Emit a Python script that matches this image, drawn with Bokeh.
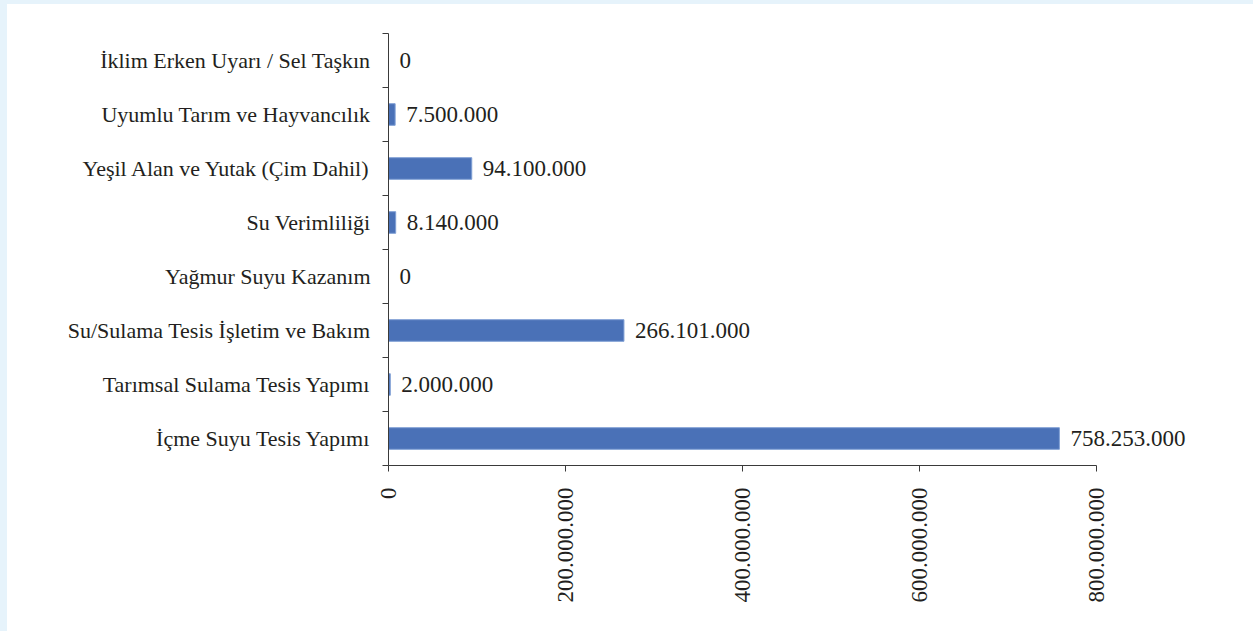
from math import pi
from bokeh.plotting import figure
from bokeh.models import (FactorRange, Range1d, LinearAxis, CategoricalAxis,
                          FixedTicker, CustomJSTickFormatter, ColumnDataSource)
from bokeh.core.properties import value
from bokeh.embed import file_html
from bokeh.resources import INLINE

# Categories listed bottom -> top (as drawn on the y axis)
categories = [
    "İçme Suyu Tesis Yapımı",
    "Tarımsal Sulama Tesis Yapımı",
    "Su/Sulama Tesis İşletim ve Bakım",
    "Yağmur Suyu Kazanım",
    "Su Verimliliği",
    "Yeşil Alan ve Yutak (Çim Dahil)",
    "Uyumlu Tarım ve Hayvancılık",
    "İklim Erken Uyarı / Sel Taşkın",
]
amounts = [758253000, 2000000, 266101000, 0, 8140000, 94100000, 7500000, 0]
x_ticks = [0, 200000000, 400000000, 600000000, 800000000]

FONT = "'Liberation Serif', serif"
TXT = "#231f20"
BAR = "#4a71b7"
AXIS = "#3a3a3a"

labels = [f"{v:,}".replace(",", ".") for v in amounts]
src = ColumnDataSource(dict(cat=categories, amt=amounts, lab=labels))

p = figure(width=1253, height=631,
           x_range=Range1d(0, 920000000),
           y_range=FactorRange(factors=categories),
           x_axis_location=None, y_axis_location=None,
           output_backend="svg", toolbar_location=None,
           min_border_left=388, min_border_top=33,
           min_border_right=51, min_border_bottom=166)
p.outline_line_color = None
p.xgrid.visible = False
p.ygrid.visible = False
p.background_fill_color = None
p.border_fill_color = None

p.hbar(y="cat", right="amt", left=0, height=0.4, source=src,
       fill_color=BAR, line_color="#7f9fd4", line_width=1)
p.text(x="amt", y="cat", text="lab", source=src, x_offset=11,
       text_baseline="middle", text_align="left",
       text_font=value(FONT), text_font_size="23px", text_color=TXT)

# x axis
xaxis = LinearAxis(bounds=(0, 800000000), ticker=FixedTicker(ticks=x_ticks, minor_ticks=[]),
                   formatter=CustomJSTickFormatter(code="""
return Math.round(tick).toString().replace(/\\B(?=(\\d{3})+(?!\\d))/g, ".");
"""))
xaxis.major_label_orientation = pi / 2
xaxis.major_label_text_font = FONT
xaxis.major_label_text_font_size = "23px"
xaxis.major_label_text_color = TXT
xaxis.major_label_standoff = 16
xaxis.major_tick_in = 0
xaxis.major_tick_out = 6
xaxis.minor_tick_line_color = None
xaxis.axis_line_color = AXIS
xaxis.major_tick_line_color = AXIS
p.add_layout(xaxis, "below")

# boundary ticks axis (closest to the frame), ticks between category bands
baxis = LinearAxis(ticker=FixedTicker(ticks=list(range(len(categories) + 1)), minor_ticks=[]),
                   formatter=CustomJSTickFormatter(code="return '';"))
baxis.major_tick_in = 0
baxis.major_tick_out = 6
baxis.minor_tick_line_color = None
baxis.major_label_standoff = 0
baxis.major_label_text_font_size = "1px"
baxis.axis_line_color = AXIS
baxis.major_tick_line_color = AXIS
p.add_layout(baxis, "left")

# category labels axis
caxis = CategoricalAxis()
caxis.axis_line_color = None
caxis.major_tick_line_color = None
caxis.major_tick_in = 0
caxis.major_tick_out = 0
caxis.major_label_standoff = 12
caxis.major_label_text_font = FONT
caxis.major_label_text_font_size = "22px"
caxis.major_label_text_color = TXT
p.add_layout(caxis, "left")

html = file_html(p, INLINE)
css = ("<style>html{background-color:#fff;"
       "background-image:linear-gradient(#e6f3fb 4px, transparent 4px),"
       "linear-gradient(90deg,#e6f3fb 7px, transparent 7px);"
       "background-repeat:no-repeat;min-height:100%;}</style>")
html = html.replace("<head>", "<head>" + css, 1)
open("out.html", "w").write(html)
